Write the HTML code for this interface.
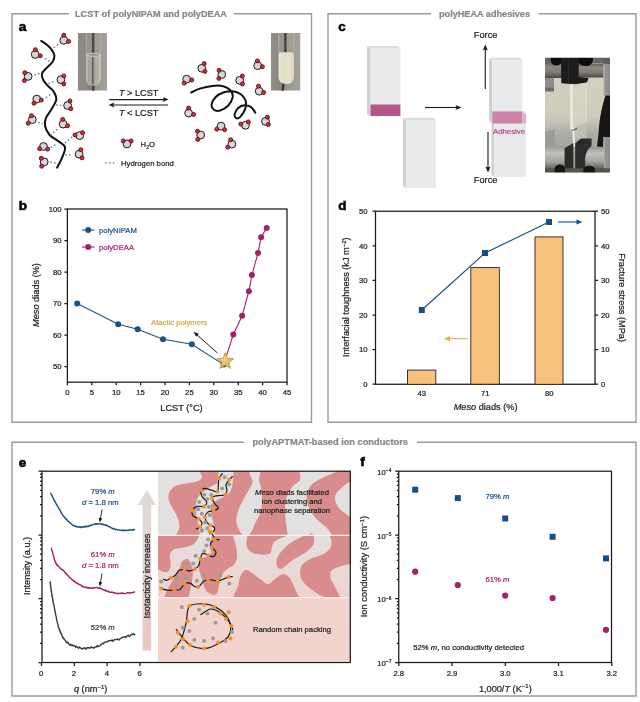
<!DOCTYPE html>
<html lang="en"><head><meta charset="utf-8"><title>Figure</title>
<style>
html,body{margin:0;padding:0;background:#fff;}
body{width:640px;height:702px;overflow:hidden;font-family:"Liberation Sans",Arial,sans-serif;}
svg{display:block;}
svg text{font-family:"Liberation Sans",Arial,sans-serif;}
</style></head><body>
<svg width="640" height="702" viewBox="0 0 640 702">
<rect width="640" height="702" fill="#fff"/>
<!-- part_frames -->
<g fill="none" stroke="#9b9b9b" stroke-width="1.4">
<path d="M69,13.7 H12 V422.2 H311.5 V13.7 H234"/>
<path d="M431,13.7 H328 V422.2 H636 V13.7 H538.5"/>
<path d="M244,442.3 H12 V696 H636 V442.3 H417"/>
</g>
<g font-family="Liberation Sans, Arial, sans-serif" font-weight="bold" font-size="9.2" fill="#85878a" text-anchor="middle" stroke="#85878a" stroke-width="0.22">
<text x="151" y="16.6" textLength="152" lengthAdjust="spacingAndGlyphs">LCST of polyNIPAM and polyDEAA</text>
<text x="484.5" y="16.6" textLength="91" lengthAdjust="spacingAndGlyphs">polyHEAA adhesives</text>
<text x="330.2" y="445.2" textLength="155.5" lengthAdjust="spacingAndGlyphs">polyAPTMAT-based ion conductors</text>
</g>
<g font-family="Liberation Sans, Arial, sans-serif" font-weight="bold" font-size="12.5" fill="#000" stroke="#000" stroke-width="0.55">
<text transform="translate(18.7,31) scale(1.08,1)">a</text>
<text transform="translate(18.7,210.3) scale(1.08,1)">b</text>
<text transform="translate(338.2,31) scale(1.08,1)">c</text>
<text transform="translate(338.2,210.3) scale(1.08,1)">d</text>
<text transform="translate(18.7,466.5) scale(1.08,1)">e</text>
<text transform="translate(360.2,465.5) scale(1.08,1)">f</text>
</g>
<!-- part_a -->
<defs><filter id="blr" x="-5%" y="-5%" width="110%" height="110%"><feGaussianBlur stdDeviation="0.45"/></filter>
<linearGradient id="t1bg" x1="0" y1="0" x2="1" y2="0"><stop offset="0" stop-color="#8f8c85"/><stop offset="0.3" stop-color="#8b8881"/><stop offset="0.5" stop-color="#807d77"/><stop offset="0.62" stop-color="#99968e"/><stop offset="1" stop-color="#a5a29a"/></linearGradient>
<linearGradient id="t1liq" x1="0" y1="0" x2="1" y2="0"><stop offset="0" stop-color="#cfcdc3"/><stop offset="0.18" stop-color="#aaa79e"/><stop offset="0.45" stop-color="#aba89f"/><stop offset="0.8" stop-color="#b8b5ac"/><stop offset="1" stop-color="#d0cec5"/></linearGradient>
<clipPath id="t1c"><rect x="77.7" y="33" width="29.3" height="57.7"/></clipPath></defs>
<g clip-path="url(#t1c)"><rect x="77.7" y="33" width="29.3" height="57.7" fill="url(#t1bg)"/><g filter="url(#blr)">
<rect x="86" y="30" width="15" height="25" fill="#a29f97" opacity="0.5"/>
<path d="M86.2,30V54M100.8,30V54" stroke="#bdbab1" stroke-width="0.8" opacity="0.8"/>
<path d="M93.2,30V95" stroke="#35342f" stroke-width="2.3" opacity="0.8"/>
<path d="M86,54 H101 V78 Q101,85 93.5,85 Q86,85 86,78Z" fill="url(#t1liq)" opacity="0.85"/>
<ellipse cx="93.5" cy="54.8" rx="7" ry="1.6" fill="#9a978f" stroke="#d6d4ca" stroke-width="0.8"/>
<path d="M92.8,57V84" stroke="#4a4945" stroke-width="1.6" opacity="0.7"/>
<path d="M87.5,83.5 Q93.5,87 99.5,83.5" stroke="#d2d0c6" stroke-width="0.8" fill="none" opacity="0.8"/>
</g></g>
<defs><linearGradient id="t2bg" x1="0" y1="0" x2="1" y2="0"><stop offset="0" stop-color="#928f88"/><stop offset="0.4" stop-color="#86837c"/><stop offset="0.55" stop-color="#9a978f"/><stop offset="1" stop-color="#a5a29a"/></linearGradient>
<linearGradient id="t2liq" x1="0" y1="0" x2="1" y2="0"><stop offset="0" stop-color="#ebe7d3"/><stop offset="0.3" stop-color="#e1ddc5"/><stop offset="0.7" stop-color="#e6e2cb"/><stop offset="1" stop-color="#d8d4bd"/></linearGradient>
<clipPath id="t2c"><rect x="271" y="33" width="29.5" height="57.7"/></clipPath></defs>
<g clip-path="url(#t2c)"><rect x="271" y="33" width="29.5" height="57.7" fill="url(#t2bg)"/><g filter="url(#blr)">
<rect x="278.5" y="33" width="15.5" height="22" fill="#a39f97" opacity="0.6"/>
<path d="M278.7,33V53M293.8,33V53" stroke="#c2bfb6" stroke-width="0.8" opacity="0.8"/>
<path d="M285.4,30V53" stroke="#34332f" stroke-width="2.2" opacity="0.9"/>
<path d="M283.6,82 L282.6,91" stroke="#2c2b28" stroke-width="2"/>
<path d="M278.5,55 Q278.5,52.3 281,52.3 H291.5 Q294,52.3 294,55 V76.5 Q294,84 286.2,84 Q278.5,84 278.5,76.5Z" fill="url(#t2liq)"/>
</g></g>
<path d="M41.2,40.8 C42.1,41.4 44.8,43.0 46.5,44.5 C48.2,46.0 50.2,47.7 51.5,49.5 C52.8,51.3 54.2,53.2 54.4,55.3 C54.6,57.4 53.9,59.8 52.5,62.0 C51.1,64.2 47.8,66.5 46.0,68.5 C44.2,70.5 42.3,72.0 41.9,74.0 C41.5,76.0 42.4,78.4 43.5,80.5 C44.6,82.6 46.8,84.7 48.5,86.5 C50.2,88.3 52.2,89.3 53.5,91.4 C54.8,93.5 56.5,96.3 56.3,99.1 C56.1,101.9 54.0,104.9 52.2,108.1 C50.5,111.3 47.0,115.3 45.8,118.3 C44.6,121.3 44.5,123.2 45.1,126.0 C45.7,128.8 47.4,132.4 49.6,135.0 C51.9,137.6 56.0,139.4 58.6,141.4 C61.2,143.4 64.4,144.6 65.0,147.2 C65.6,149.8 63.7,153.4 62.4,156.8 C61.1,160.2 58.0,165.9 57.1,167.7" fill="none" stroke="#111" stroke-width="2" stroke-linecap="round"/>
<path d="M191.3,92.5 C192.7,91.8 196.4,89.7 199.9,88.6 C203.4,87.5 208.5,86.3 212.4,85.9 C216.3,85.5 220.3,85.5 223.3,86.2 C226.3,87.0 228.7,88.4 230.3,90.2 C231.9,92.0 233.1,94.6 232.7,97.2 C232.3,99.8 230.1,103.6 228.0,105.8 C225.9,108.0 222.5,109.8 220.2,110.5 C217.8,111.2 215.3,110.8 213.9,109.7 C212.5,108.7 211.3,106.3 211.6,104.2 C211.9,102.1 213.6,99.2 215.5,97.2 C217.4,95.2 220.4,93.5 223.3,92.5 C226.2,91.5 229.8,91.0 232.7,91.2 C235.6,91.5 238.4,92.5 240.5,94.0 C242.6,95.5 244.7,97.8 245.5,100.3 C246.3,102.8 246.0,106.2 245.2,108.9 C244.4,111.6 241.9,115.1 240.5,116.7 C239.1,118.3 237.6,118.7 236.6,118.3 C235.6,117.9 234.3,116.1 234.6,114.4 C234.9,112.7 236.6,109.6 238.2,108.1 C239.8,106.6 242.2,105.4 244.4,105.3 C246.6,105.2 249.6,106.0 251.4,107.3 C253.2,108.5 254.7,111.9 255.3,112.8" fill="none" stroke="#111" stroke-width="2" stroke-linecap="round"/>
<g stroke="#4f7fb6" stroke-width="1.35" stroke-dasharray="1.6 2.3" fill="none">
<path d="M58.1,44.5L53.9,47.8"/>
<path d="M45,58.6L49.7,61.4"/>
<path d="M34.2,75L40.8,73.1"/>
<path d="M53.4,81.6L46.9,84.4"/>
<path d="M45.8,97.8L52.2,93"/>
<path d="M56,104.9L61.8,105.5"/>
<path d="M38.1,122.2L42.6,123.7"/>
<path d="M57.3,129.2L50.3,135"/>
<path d="M72.1,136.9L64.4,143.3"/>
<path d="M50.9,147.8L57.3,143.3"/>
<path d="M65,154.9L71.4,154.9"/>
<path d="M50.3,161.9L56,163.2"/>
<path d="M105,162.8L115.4,162.8"/>
</g>
<circle cx="63.8" cy="40.3" r="3.9" fill="#d6d6d6" stroke="#1a1a1a" stroke-width="1"/><circle cx="63.8" cy="35.2" r="2" fill="#d42f3a" stroke="#5a0c14" stroke-width="0.9"/><circle cx="68.6" cy="41.4" r="2" fill="#d42f3a" stroke="#5a0c14" stroke-width="0.9"/>
<circle cx="35.2" cy="54.4" r="3.9" fill="#d6d6d6" stroke="#1a1a1a" stroke-width="1"/><circle cx="35.4" cy="49.7" r="2" fill="#d42f3a" stroke="#5a0c14" stroke-width="0.9"/><circle cx="40.3" cy="55.8" r="2" fill="#d42f3a" stroke="#5a0c14" stroke-width="0.9"/>
<circle cx="28.1" cy="76.4" r="3.9" fill="#d6d6d6" stroke="#1a1a1a" stroke-width="1"/><circle cx="24.8" cy="72.7" r="2" fill="#d42f3a" stroke="#5a0c14" stroke-width="0.9"/><circle cx="24.4" cy="80.6" r="2" fill="#d42f3a" stroke="#5a0c14" stroke-width="0.9"/>
<circle cx="60.9" cy="79.7" r="3.9" fill="#d6d6d6" stroke="#1a1a1a" stroke-width="1"/><circle cx="63.8" cy="75.9" r="2" fill="#d42f3a" stroke="#5a0c14" stroke-width="0.9"/><circle cx="63.8" cy="83.9" r="2" fill="#d42f3a" stroke="#5a0c14" stroke-width="0.9"/>
<circle cx="36.8" cy="99.1" r="3.9" fill="#d6d6d6" stroke="#1a1a1a" stroke-width="1"/><circle cx="34.0" cy="103.2" r="2" fill="#d42f3a" stroke="#5a0c14" stroke-width="0.9"/><circle cx="41.3" cy="100.1" r="2" fill="#d42f3a" stroke="#5a0c14" stroke-width="0.9"/>
<circle cx="67.6" cy="105.5" r="3.9" fill="#d6d6d6" stroke="#1a1a1a" stroke-width="1"/><circle cx="69.9" cy="101.0" r="2" fill="#d42f3a" stroke="#5a0c14" stroke-width="0.9"/><circle cx="70.8" cy="108.7" r="2" fill="#d42f3a" stroke="#5a0c14" stroke-width="0.9"/>
<circle cx="32.3" cy="119.6" r="3.9" fill="#d6d6d6" stroke="#1a1a1a" stroke-width="1"/><circle cx="31.4" cy="115.8" r="2" fill="#d42f3a" stroke="#5a0c14" stroke-width="0.9"/><circle cx="28.2" cy="123.2" r="2" fill="#d42f3a" stroke="#5a0c14" stroke-width="0.9"/>
<circle cx="63.1" cy="124.1" r="3.9" fill="#d6d6d6" stroke="#1a1a1a" stroke-width="1"/><circle cx="62.7" cy="119.4" r="2" fill="#d42f3a" stroke="#5a0c14" stroke-width="0.9"/><circle cx="67.6" cy="125.8" r="2" fill="#d42f3a" stroke="#5a0c14" stroke-width="0.9"/>
<circle cx="79.7" cy="135.6" r="3.9" fill="#d6d6d6" stroke="#1a1a1a" stroke-width="1"/><circle cx="75.0" cy="135.0" r="2" fill="#d42f3a" stroke="#5a0c14" stroke-width="0.9"/><circle cx="82.6" cy="132.7" r="2" fill="#d42f3a" stroke="#5a0c14" stroke-width="0.9"/>
<circle cx="43.5" cy="146.5" r="3.9" fill="#d6d6d6" stroke="#1a1a1a" stroke-width="1"/><circle cx="39.6" cy="148.7" r="2" fill="#d42f3a" stroke="#5a0c14" stroke-width="0.9"/><circle cx="47.7" cy="149.1" r="2" fill="#d42f3a" stroke="#5a0c14" stroke-width="0.9"/>
<circle cx="79.1" cy="154.2" r="3.9" fill="#d6d6d6" stroke="#1a1a1a" stroke-width="1"/><circle cx="80.8" cy="149.7" r="2" fill="#d42f3a" stroke="#5a0c14" stroke-width="0.9"/><circle cx="82.0" cy="157.8" r="2" fill="#d42f3a" stroke="#5a0c14" stroke-width="0.9"/>
<circle cx="44.2" cy="161.9" r="3.9" fill="#d6d6d6" stroke="#1a1a1a" stroke-width="1"/><circle cx="41.3" cy="158.3" r="2" fill="#d42f3a" stroke="#5a0c14" stroke-width="0.9"/><circle cx="41.7" cy="166.2" r="2" fill="#d42f3a" stroke="#5a0c14" stroke-width="0.9"/>
<circle cx="201.8" cy="68.3" r="3.9" fill="#d6d6d6" stroke="#1a1a1a" stroke-width="1"/><circle cx="204.2" cy="63.6" r="2" fill="#d42f3a" stroke="#5a0c14" stroke-width="0.9"/><circle cx="204.9" cy="71.4" r="2" fill="#d42f3a" stroke="#5a0c14" stroke-width="0.9"/>
<circle cx="186.6" cy="79.2" r="3.9" fill="#d6d6d6" stroke="#1a1a1a" stroke-width="1"/><circle cx="184.2" cy="83.1" r="2" fill="#d42f3a" stroke="#5a0c14" stroke-width="0.9"/><circle cx="191.8" cy="80.0" r="2" fill="#d42f3a" stroke="#5a0c14" stroke-width="0.9"/>
<circle cx="221.8" cy="74.5" r="3.9" fill="#d6d6d6" stroke="#1a1a1a" stroke-width="1"/><circle cx="219.1" cy="70.3" r="2" fill="#d42f3a" stroke="#5a0c14" stroke-width="0.9"/><circle cx="218.9" cy="78.4" r="2" fill="#d42f3a" stroke="#5a0c14" stroke-width="0.9"/>
<circle cx="239.7" cy="80.3" r="3.9" fill="#d6d6d6" stroke="#1a1a1a" stroke-width="1"/><circle cx="242.4" cy="76.1" r="2" fill="#d42f3a" stroke="#5a0c14" stroke-width="0.9"/><circle cx="242.5" cy="83.9" r="2" fill="#d42f3a" stroke="#5a0c14" stroke-width="0.9"/>
<circle cx="257.7" cy="65.6" r="3.9" fill="#d6d6d6" stroke="#1a1a1a" stroke-width="1"/><circle cx="257.4" cy="60.9" r="2" fill="#d42f3a" stroke="#5a0c14" stroke-width="0.9"/><circle cx="262.4" cy="66.7" r="2" fill="#d42f3a" stroke="#5a0c14" stroke-width="0.9"/>
<circle cx="259.2" cy="91.2" r="3.9" fill="#d6d6d6" stroke="#1a1a1a" stroke-width="1"/><circle cx="258.5" cy="86.2" r="2" fill="#d42f3a" stroke="#5a0c14" stroke-width="0.9"/><circle cx="263.6" cy="92.5" r="2" fill="#d42f3a" stroke="#5a0c14" stroke-width="0.9"/>
<circle cx="188.6" cy="113.1" r="3.9" fill="#d6d6d6" stroke="#1a1a1a" stroke-width="1"/><circle cx="188.6" cy="108.1" r="2" fill="#d42f3a" stroke="#5a0c14" stroke-width="0.9"/><circle cx="193.6" cy="114.4" r="2" fill="#d42f3a" stroke="#5a0c14" stroke-width="0.9"/>
<circle cx="221.0" cy="126.1" r="3.9" fill="#d6d6d6" stroke="#1a1a1a" stroke-width="1"/><circle cx="216.8" cy="129.2" r="2" fill="#d42f3a" stroke="#5a0c14" stroke-width="0.9"/><circle cx="224.6" cy="129.7" r="2" fill="#d42f3a" stroke="#5a0c14" stroke-width="0.9"/>
<circle cx="245.5" cy="125.3" r="3.9" fill="#d6d6d6" stroke="#1a1a1a" stroke-width="1"/><circle cx="240.8" cy="124.1" r="2" fill="#d42f3a" stroke="#5a0c14" stroke-width="0.9"/><circle cx="248.3" cy="121.9" r="2" fill="#d42f3a" stroke="#5a0c14" stroke-width="0.9"/>
<circle cx="265.5" cy="121.4" r="3.9" fill="#d6d6d6" stroke="#1a1a1a" stroke-width="1"/><circle cx="267.4" cy="117.2" r="2" fill="#d42f3a" stroke="#5a0c14" stroke-width="0.9"/><circle cx="268.3" cy="124.5" r="2" fill="#d42f3a" stroke="#5a0c14" stroke-width="0.9"/>
<circle cx="200.7" cy="135.0" r="3.9" fill="#d6d6d6" stroke="#1a1a1a" stroke-width="1"/><circle cx="197.5" cy="131.2" r="2" fill="#d42f3a" stroke="#5a0c14" stroke-width="0.9"/><circle cx="197.8" cy="139.4" r="2" fill="#d42f3a" stroke="#5a0c14" stroke-width="0.9"/>
<circle cx="231.9" cy="144.1" r="3.9" fill="#d6d6d6" stroke="#1a1a1a" stroke-width="1"/><circle cx="230.7" cy="139.8" r="2" fill="#d42f3a" stroke="#5a0c14" stroke-width="0.9"/><circle cx="227.7" cy="147.2" r="2" fill="#d42f3a" stroke="#5a0c14" stroke-width="0.9"/>
<circle cx="127.0" cy="143.9" r="3.9" fill="#d6d6d6" stroke="#1a1a1a" stroke-width="1"/><circle cx="123.3" cy="140.9" r="2" fill="#d42f3a" stroke="#5a0c14" stroke-width="0.9"/><circle cx="131.1" cy="140.9" r="2" fill="#d42f3a" stroke="#5a0c14" stroke-width="0.9"/>
<g stroke="#1a1a1a" stroke-width="1.15" fill="#1a1a1a">
<path d="M109.2,99.6H165" fill="none"/><path d="M168.6,99.6 L162.8,97.1 L164,99.6 L162.8,102.1Z" stroke="none"/>
<path d="M168,105H112.4" fill="none"/><path d="M108.6,105 L114.4,102.5 L113.2,105 L114.4,107.5Z" stroke="none"/>
</g>
<g font-size="9.2" fill="#222" text-anchor="middle" stroke="#222" stroke-width="0.22">
<text x="138.7" y="96"><tspan font-style="italic">T</tspan> &gt; LCST</text>
<text x="138.7" y="116.3"><tspan font-style="italic">T</tspan> &lt; LCST</text>
</g>
<g font-size="7.7" fill="#222" stroke="#222" stroke-width="0.22">
<text x="140.6" y="147.3">H<tspan font-size="5" dy="1.8">2</tspan><tspan dy="-1.8">O</tspan></text>
<text x="121" y="165.8" textLength="52.8" lengthAdjust="spacingAndGlyphs">Hydrogen bond</text>
</g>
<!-- part_b -->
<g stroke="#1a1a1a" stroke-width="1.25" fill="none">
<rect x="67.4" y="209.0" width="219.6" height="173.2"/>
<path d="M64.4,366.5H67.4M64.4,335.0H67.4M64.4,303.5H67.4M64.4,272.0H67.4M64.4,240.5H67.4M64.4,209.0H67.4M67.4,382.2V385.2M91.8,382.2V385.2M116.2,382.2V385.2M140.6,382.2V385.2M165.0,382.2V385.2M189.4,382.2V385.2M213.8,382.2V385.2M238.2,382.2V385.2M262.6,382.2V385.2M287.0,382.2V385.2"/></g>
<g font-size="7.7" fill="#222" stroke="#222" stroke-width="0.22">
<text x="61.6" y="369.1" text-anchor="end">50</text>
<text x="61.6" y="337.6" text-anchor="end">60</text>
<text x="61.6" y="306.1" text-anchor="end">70</text>
<text x="61.6" y="274.6" text-anchor="end">80</text>
<text x="61.6" y="243.1" text-anchor="end">90</text>
<text x="61.6" y="211.6" text-anchor="end">100</text>
<text x="67.4" y="394.6" text-anchor="middle">0</text>
<text x="91.8" y="394.6" text-anchor="middle">5</text>
<text x="116.2" y="394.6" text-anchor="middle">10</text>
<text x="140.6" y="394.6" text-anchor="middle">15</text>
<text x="165.0" y="394.6" text-anchor="middle">20</text>
<text x="189.4" y="394.6" text-anchor="middle">25</text>
<text x="213.8" y="394.6" text-anchor="middle">30</text>
<text x="238.2" y="394.6" text-anchor="middle">35</text>
<text x="262.6" y="394.6" text-anchor="middle">40</text>
<text x="287.0" y="394.6" text-anchor="middle">45</text>
</g>
<g font-size="9.2" fill="#222" stroke="#222" stroke-width="0.22">
<text x="181.5" y="411" text-anchor="middle">LCST (°C)</text>
<text transform="translate(38.6,295) rotate(-90)" text-anchor="middle"><tspan font-style="italic">Meso</tspan> diads (%)</text>
</g>
<path d="M77.2,303.5 L118.2,324.3 L137.7,329.3 L163.0,339.3 L191.8,344.3 L223.6,364.6" fill="none" stroke="#1d5288" stroke-width="1.1"/>
<circle cx="77.2" cy="303.5" r="3" fill="#1d5288"/>
<circle cx="118.2" cy="324.3" r="3" fill="#1d5288"/>
<circle cx="137.7" cy="329.3" r="3" fill="#1d5288"/>
<circle cx="163.0" cy="339.3" r="3" fill="#1d5288"/>
<circle cx="191.8" cy="344.3" r="3" fill="#1d5288"/>
<circle cx="223.6" cy="364.6" r="3" fill="#1d5288"/>
<path d="M224.5,361.8 L233.3,334.4 L242.1,315.8 L248.9,291.2 L251.9,275.1 L258.0,253.1 L261.1,237.3 L266.7,227.9" fill="none" stroke="#a51f66" stroke-width="1.1"/>
<circle cx="224.5" cy="361.8" r="3" fill="#a51f66"/>
<circle cx="233.3" cy="334.4" r="3" fill="#a51f66"/>
<circle cx="242.1" cy="315.8" r="3" fill="#a51f66"/>
<circle cx="248.9" cy="291.2" r="3" fill="#a51f66"/>
<circle cx="251.9" cy="275.1" r="3" fill="#a51f66"/>
<circle cx="258.0" cy="253.1" r="3" fill="#a51f66"/>
<circle cx="261.1" cy="237.3" r="3" fill="#a51f66"/>
<circle cx="266.7" cy="227.9" r="3" fill="#a51f66"/>
<path d="M82,230H94.5" stroke="#1d5288" stroke-width="1.1"/><circle cx="88.2" cy="230" r="3" fill="#1d5288"/>
<path d="M82,247H94.5" stroke="#a51f66" stroke-width="1.1"/><circle cx="88.2" cy="247" r="3" fill="#a51f66"/>
<text x="99" y="232.6" font-size="7.7" fill="#1d5288" stroke="#1d5288" stroke-width="0.22">polyNIPAM</text>
<text x="99" y="249.6" font-size="7.7" fill="#a51f66" stroke="#a51f66" stroke-width="0.22">polyDEAA</text>
<defs><radialGradient id="starg" cx="0.45" cy="0.4" r="0.6"><stop offset="0" stop-color="#f0d49a"/><stop offset="1" stop-color="#d9a444"/></radialGradient></defs>
<path d="M225.3,352.5 L227.5,358.3 L233.7,358.6 L228.8,362.4 L230.5,368.4 L225.3,365.0 L220.1,368.4 L221.8,362.4 L216.9,358.6 L223.1,358.3Z" fill="url(#starg)" stroke="#c9973a" stroke-width="0.9" stroke-linejoin="miter"/>
<text x="151" y="324.5" font-size="7.7" fill="#d9a441" stroke="#d9a441" stroke-width="0.22">Atactic polymers</text>
<path d="M217.5,353 L196,334" stroke="#1a1a1a" stroke-width="1" fill="none"/><path d="M193.4,331.7 L198.8,333.7 L196.2,336.7Z" fill="#1a1a1a"/>
<!-- part_c -->
<path d="M367,46.9 L370.5,48.5 V116 L367,114.0Z" fill="#cfd0d2"/><path d="M367,46.9 L368,45.9 H397.79999999999995 L400.4,48.5 H370.5Z" fill="#dcdddf"/><rect x="370.5" y="48.5" width="29.899999999999977" height="67.5" fill="#e9eaeb"/>
<rect x="370.5" y="104.5" width="29.9" height="11.5" fill="#b3568a"/>
<path d="M403,118.7 L406,120.3 V188 L403,186.0Z" fill="#cfd0d2"/><path d="M403,118.7 L404,117.7 H433.4 L436,120.3 H406Z" fill="#dcdddf"/><rect x="406" y="120.3" width="30" height="67.7" fill="#e9eaeb"/>
<path d="M425,107.5H457" stroke="#1a1a1a" stroke-width="1.1"/><path d="M461.5,107.5 L455.5,104.9 L456.7,107.5 L455.5,110.1Z" fill="#1a1a1a"/>
<path d="M491.5,111.80000000000001 L494.3,113.4 V177 L491.5,175.0Z" fill="#cfd0d2"/><path d="M491.5,111.80000000000001 L492.5,110.80000000000001 H523.4 L526,113.4 H494.3Z" fill="#dcdddf"/><rect x="494.3" y="113.4" width="31.69999999999999" height="63.599999999999994" fill="#e9eaeb"/>
<path d="M489,58.699999999999996 L492.3,60.3 V123 L489,121.0Z" fill="#cfd0d2"/><path d="M489,58.699999999999996 L490,57.699999999999996 H519.8 L522.4,60.3 H492.3Z" fill="#dcdddf"/><rect x="492.3" y="60.3" width="30.099999999999966" height="62.7" fill="#e9eaeb"/>
<rect x="492.3" y="111.4" width="30.1" height="12.1" fill="#c9729f" opacity="0.85"/>
<rect x="522.4" y="113.4" width="3.6" height="10.1" fill="#dcaecb"/>
<path d="M485.3,89V49" stroke="#1a1a1a" stroke-width="1.1"/><path d="M485.3,44.5 L482.7,50.5 L485.3,49.3 L487.9,50.5Z" fill="#1a1a1a"/>
<path d="M488,132V168" stroke="#1a1a1a" stroke-width="1.1"/><path d="M488,172.4 L485.4,166.4 L488,167.6 L490.6,166.4Z" fill="#1a1a1a"/>
<g font-size="9.2" fill="#222" text-anchor="middle" stroke="#222" stroke-width="0.22"><text x="485.6" y="37.9">Force</text><text x="485.6" y="182.8">Force</text></g>
<text x="493" y="133.8" font-size="7.7" fill="#b3457f" textLength="32" lengthAdjust="spacingAndGlyphs" stroke="#b3457f" stroke-width="0.22">Adhesive</text>
<defs>
<linearGradient id="pbg" x1="0" y1="0" x2="0" y2="1"><stop offset="0" stop-color="#c9c5b4"/><stop offset="0.2" stop-color="#d3cfbf"/><stop offset="0.5" stop-color="#cfccbc"/><stop offset="0.58" stop-color="#c0beb2"/><stop offset="0.66" stop-color="#aeada6"/><stop offset="0.8" stop-color="#a3a29c"/><stop offset="1" stop-color="#8c8b86"/></linearGradient>
<linearGradient id="cyl" x1="0" y1="0" x2="0" y2="1"><stop offset="0" stop-color="#5e5c57"/><stop offset="0.3" stop-color="#8d8a82"/><stop offset="0.65" stop-color="#7d7a73"/><stop offset="1" stop-color="#4a4845"/></linearGradient>
<linearGradient id="cyl2" x1="0" y1="0" x2="0" y2="1"><stop offset="0" stop-color="#9a9893"/><stop offset="0.3" stop-color="#c2c0ba"/><stop offset="0.65" stop-color="#a5a39d"/><stop offset="1" stop-color="#5d5b57"/></linearGradient>
<linearGradient id="blk" x1="0" y1="0" x2="1" y2="0"><stop offset="0" stop-color="#bdbdbc"/><stop offset="0.25" stop-color="#949494"/><stop offset="1" stop-color="#8a8a8a"/></linearGradient>
<clipPath id="pc"><rect x="545.0" y="57.8" width="65.0" height="114.6"/></clipPath>
</defs>
<g clip-path="url(#pc)">
<rect x="545.0" y="57.8" width="65.0" height="114.6" fill="url(#pbg)"/><g filter="url(#blr)">
<rect x="544" y="77" width="10" height="11" fill="#8c8c8a"/><rect x="544" y="87.5" width="10" height="4" fill="#6e6e6c"/>
<path d="M544,129 L554.6,127 V147 H544Z" fill="#9a9a98"/><path d="M544,129 L554.6,127 V129.5 L544,131.5Z" fill="#b4b4b2"/>
<rect x="544" y="62" width="19" height="16" fill="url(#cyl)"/>
<rect x="578" y="63.5" width="26" height="14" fill="url(#cyl)"/>
<rect x="544" y="56" width="67" height="7" fill="#676560"/>
<path d="M550.5,56 H562 V62 Q560,65.5 556,65.5 Q551.5,65.5 550.5,60Z" fill="#111"/>
<path d="M578,56 H593 V60 Q592,66 586,66 Q580,66 578,62Z" fill="#111"/>
<rect x="603.3" y="63.5" width="8" height="32" fill="url(#blk)"/>
<rect x="603.3" y="56" width="8" height="8" fill="#5f5f5d"/>
<path d="M605.5,95.5 C602.5,104 599.5,118 598.8,130 C598.3,138 597.5,143 597,146.5 L603,147 L604,139 L611,137 V95.5Z" fill="#141413"/>
<rect x="603.3" y="137" width="8" height="36" fill="url(#blk)"/>
<path d="M561,56 H578.7 V77 L588.6,78 L587,82.2 L576,84.6 L561.3,83.2Z" fill="#1b1b1a"/>
<path d="M568.5,58V83" stroke="#3d3d3b" stroke-width="1" stroke-dasharray="0.7 0.9"/>
<path d="M570.2,84.3 L586.3,83 L586.3,122.5 L570.2,129.6Z" fill="#d9d6ca" opacity="0.65"/>
<path d="M570.2,84.3 L573,84.1 L573.2,128.3 L570.2,129.6Z" fill="#ecebe4" opacity="0.85"/>
<path d="M586.1,83V122.5" stroke="#e8e6dc" stroke-width="0.7"/>
<path d="M575,130 L586.3,123.5 V139 H575Z" fill="#c2c1ba" opacity="0.85"/>
<path d="M573.2,127 L574.2,147" stroke="#f0efe9" stroke-width="2"/>
<path d="M572.5,130.5 L577,128.5" stroke="#55534e" stroke-width="1.2"/>
<rect x="544" y="146" width="21" height="24" fill="url(#cyl2)"/>
<rect x="585" y="147" width="19" height="22" fill="url(#cyl2)"/>
<path d="M564.6,148.3 L573.3,143 V173 H564.6Z" fill="#2c2c2b"/>
<path d="M575.2,143.5 L581,138.4 H591.6 V146 Q586,150 585.2,158 V173 H575.2Z" fill="#2f2f2e"/>
<path d="M576.5,145 L583,139.5 M579.5,146 L586.5,140" stroke="#1b1b1a" stroke-width="0.9"/>
<rect x="544" y="168.3" width="67" height="5" fill="#55544f"/>
<path d="M554.6,173 V168 Q556,164.5 560,164.5 Q564,164.5 565,168 V173Z" fill="#121211"/>
<path d="M583.4,173 V169 Q585,165.8 589,165.8 Q593.5,165.8 595,169 V173Z" fill="#121211"/>
</g></g>
<!-- part_d -->
<g stroke="#1a1a1a" stroke-width="1.25" fill="none">
<rect x="375.5" y="211.25" width="219.5" height="173.00"/>
<path d="M372.5,384.2H375.5M595.0,384.2H598.0M372.5,349.6H375.5M595.0,349.6H598.0M372.5,315.1H375.5M595.0,315.1H598.0M372.5,280.4H375.5M595.0,280.4H598.0M372.5,245.8H375.5M595.0,245.8H598.0M372.5,211.2H375.5M595.0,211.2H598.0"/></g>
<g font-size="7.7" fill="#222" stroke="#222" stroke-width="0.22">
<text x="367.6" y="386.9" text-anchor="end">0</text>
<text x="601.0" y="386.9">0</text>
<text x="367.6" y="352.3" text-anchor="end">10</text>
<text x="601.0" y="352.3">10</text>
<text x="367.6" y="317.8" text-anchor="end">20</text>
<text x="601.0" y="317.8">20</text>
<text x="367.6" y="283.1" text-anchor="end">30</text>
<text x="601.0" y="283.1">30</text>
<text x="367.6" y="248.5" text-anchor="end">40</text>
<text x="601.0" y="248.5">40</text>
<text x="367.6" y="213.9" text-anchor="end">50</text>
<text x="601.0" y="213.9">50</text>
<text x="421.7" y="395.8" text-anchor="middle">43</text>
<text x="485.3" y="395.8" text-anchor="middle">71</text>
<text x="549.2" y="395.8" text-anchor="middle">80</text>
</g>
<rect x="407.5" y="370.1" width="28.3" height="14.2" fill="#f7c27d" stroke="#2a2017" stroke-width="0.9"/>
<rect x="470.8" y="267.6" width="28.5" height="116.6" fill="#f7c27d" stroke="#2a2017" stroke-width="0.9"/>
<rect x="535" y="236.9" width="28.0" height="147.4" fill="#f7c27d" stroke="#2a2017" stroke-width="0.9"/>
<path d="M421.8,310.0 L485.0,253.0 L549.0,222.0" fill="none" stroke="#154e88" stroke-width="1.1"/>
<rect x="418.8" y="307.0" width="6" height="6" fill="#154e88"/>
<rect x="482.0" y="250.0" width="6" height="6" fill="#154e88"/>
<rect x="546.0" y="219.0" width="6" height="6" fill="#154e88"/>
<path d="M558,222H578" stroke="#154e88" stroke-width="1.1"/><path d="M582.5,222 L576.5,219.4 L576.5,224.6Z" fill="#154e88"/>
<path d="M467.5,338.7H448" stroke="#f0a64b" stroke-width="1.1"/><path d="M444,338.7 L450,336.1 L450,341.3Z" fill="#f0a64b"/>
<g font-size="9.2" fill="#222" stroke="#222" stroke-width="0.22">
<text x="485.6" y="410.2" text-anchor="middle"><tspan font-style="italic">Meso</tspan> diads (%)</text>
<text transform="translate(348.8,297.2) rotate(-90)" text-anchor="middle">Interfacial toughness (kJ m<tspan font-size="6" dy="-3.2">−2</tspan><tspan dy="3.2">)</tspan></text>
<text transform="translate(619.4,297.6) rotate(90)" text-anchor="middle">Fracture stress (MPa)</text>
</g>
<!-- part_e -->
<defs>
<linearGradient id="bgm" x1="0" y1="0" x2="0" y2="1"><stop offset="0" stop-color="#e3e0de"/><stop offset="1" stop-color="#efd3ce"/></linearGradient>
<linearGradient id="arr" x1="0" y1="0" x2="0" y2="1"><stop offset="0" stop-color="#dcdad8"/><stop offset="0.35" stop-color="#e3d6d3"/><stop offset="1" stop-color="#ecc6c2"/></linearGradient>
<clipPath id="ctop"><rect x="158.0" y="471.2" width="192.3" height="64.09999999999997"/></clipPath>
<clipPath id="cmid"><rect x="158.0" y="535.3" width="192.3" height="62.30000000000007"/></clipPath>
</defs>
<rect x="158.0" y="471.2" width="192.3" height="64.09999999999997" fill="#e2e1df"/>
<rect x="158.0" y="535.3" width="192.3" height="62.30000000000007" fill="url(#bgm)"/>
<rect x="158.0" y="597.6" width="192.3" height="63.89999999999998" fill="#f2d3ce"/>
<g clip-path="url(#ctop)" fill="#d88d8c">
<path d="M203.4,468.0 C195.7,469.6 202.9,475.3 201.9,477.5 C200.9,479.7 199.8,480.4 197.2,481.4 C194.6,482.4 189.9,482.6 186.2,483.4 C182.6,484.2 178.2,484.5 175.3,486.1 C172.4,487.7 170.1,490.6 169.1,493.1 C168.1,495.6 168.3,498.0 169.1,500.9 C169.9,503.8 172.2,507.2 173.8,510.3 C175.3,513.4 177.5,516.8 178.4,519.7 C179.3,522.6 179.4,525.2 179.2,527.5 C178.9,529.8 177.6,531.7 176.9,533.8 C176.2,535.8 163.8,539.0 175.0,540.0 C186.2,541.0 232.8,540.8 244.0,540.0 C255.2,539.2 243.3,536.6 242.5,535.0 C241.7,533.4 240.4,532.9 239.4,530.6 C238.4,528.3 236.5,524.4 236.2,521.2 C236.0,518.1 236.8,515.3 237.8,511.9 C238.8,508.5 240.7,504.6 242.5,501.0 C244.3,497.4 247.1,493.2 248.8,490.0 C250.4,486.8 252.4,484.7 252.5,482.0 C252.6,479.3 250.2,476.3 249.5,474.0 C248.8,471.7 255.7,469.0 248.0,468.0 C240.3,467.0 211.1,466.4 203.4,468.0Z"/>
<path d="M262.0,468.0 C255.6,468.6 261.2,469.5 260.7,471.5 C260.2,473.5 259.0,477.3 259.0,479.8 C259.0,482.3 260.1,483.3 260.7,486.3 C261.2,489.3 262.2,494.2 262.3,497.8 C262.4,501.4 262.1,504.7 261.5,507.7 C260.9,510.7 260.0,513.4 259.0,515.9 C258.0,518.4 256.7,519.9 255.5,522.4 C254.3,524.9 253.0,528.1 252.0,531.0 C251.0,533.9 243.4,538.5 249.5,540.0 C255.6,541.5 282.1,540.8 288.5,540.0 C294.9,539.2 288.1,538.2 287.7,535.0 C287.2,531.8 286.2,524.5 285.8,521.0 C285.4,517.5 285.4,517.0 285.3,514.2 C285.2,511.4 284.9,507.7 285.3,504.4 C285.7,501.1 286.5,497.5 287.7,494.5 C288.9,491.5 290.6,488.8 292.7,486.3 C294.8,483.9 298.9,482.3 300.0,479.8 C301.1,477.3 299.8,473.5 299.6,471.5 C299.4,469.5 305.3,468.6 299.0,468.0 C292.7,467.4 268.4,467.4 262.0,468.0Z"/>
<path d="M345.0,468.0 C341.8,468.6 340.0,470.2 337.0,471.5 C334.0,472.8 330.7,474.1 327.1,475.7 C323.5,477.3 318.6,479.3 315.6,481.4 C312.6,483.4 310.6,485.5 309.1,488.0 C307.6,490.5 306.8,493.2 306.6,496.2 C306.5,499.2 307.0,502.7 308.2,506.0 C309.4,509.3 311.9,513.2 314.0,515.9 C316.1,518.6 318.3,520.3 320.5,522.4 C322.7,524.5 325.2,526.1 327.1,528.2 C329.0,530.3 330.9,533.2 332.0,535.2 C333.1,537.2 330.0,539.2 334.0,540.0 C338.0,540.8 352.3,543.9 356.0,540.0 C359.7,536.1 357.0,520.6 356.0,516.7 C355.0,512.8 351.8,517.2 350.0,516.7 C348.2,516.2 347.0,514.8 345.2,513.4 C343.4,512.0 341.0,510.6 339.4,508.5 C337.8,506.4 335.9,503.6 335.3,501.1 C334.8,498.6 334.7,496.2 336.1,493.7 C337.5,491.2 341.2,488.4 343.5,486.3 C345.8,484.2 347.9,482.6 350.0,481.4 C352.1,480.2 355.0,481.2 356.0,479.0 C357.0,476.8 357.8,469.8 356.0,468.0 C354.2,466.2 348.2,467.4 345.0,468.0Z"/>
<path d="M305.5,537 Q310,534 311.5,533 Q313.5,534 314.2,537Z"/>
<path d="M226.1,470.0 C226.0,471.8 225.8,477.5 225.3,480.6 C224.8,483.7 225.1,486.2 223.0,488.4 C220.9,490.6 215.9,491.8 212.8,493.9 C209.7,496.0 206.1,498.3 204.5,501.0 C202.9,503.7 203.2,507.4 203.2,510.3 C203.2,513.1 203.8,515.2 204.4,518.1 C205.0,521.0 206.1,524.2 206.6,527.5 C207.1,530.8 207.2,536.2 207.3,538.0" fill="none" stroke="#e2e1df" stroke-width="15" stroke-linecap="round" stroke-linejoin="round"/>
</g>
<g clip-path="url(#cmid)" fill="#d88d8c">
<path d="M154.0,532.0 C161.5,526.2 191.3,531.3 198.8,532.0 C206.2,532.7 199.1,534.8 198.8,536.2 C198.4,537.7 197.7,539.3 196.4,540.9 C195.1,542.5 193.4,544.4 190.9,545.6 C188.4,546.8 184.5,547.4 181.6,548.0 C178.7,548.6 175.7,548.3 173.8,549.5 C171.8,550.7 170.3,552.8 169.8,555.0 C169.3,557.2 170.6,560.5 170.6,562.8 C170.6,565.1 170.5,567.4 169.8,569.0 C169.2,570.6 168.0,571.8 166.7,572.2 C165.4,572.6 163.4,571.9 162.0,571.4 C160.6,570.9 159.3,569.7 158.0,569.0 C156.7,568.3 154.7,573.2 154.0,567.0 C153.3,560.8 146.5,537.8 154.0,532.0Z"/>
<path d="M186.2,558.9 C185.2,559.2 183.5,559.6 182.3,561.2 C181.1,562.9 180.6,566.1 179.2,569.0 C177.8,571.9 175.6,575.3 173.8,578.4 C171.9,581.5 169.9,584.7 168.3,587.8 C166.7,590.9 165.3,594.8 164.4,597.2 C163.5,599.6 159.1,601.2 163.0,602.0 C166.9,602.8 183.7,602.8 188.0,602.0 C192.3,601.2 188.0,600.4 188.6,597.2 C189.2,594.1 191.0,587.3 191.7,583.1 C192.4,578.9 192.9,575.5 192.8,572.2 C192.7,569.0 191.6,565.7 190.9,563.6 C190.2,561.5 189.4,560.5 188.6,559.7 C187.8,558.9 187.3,558.6 186.2,558.9Z"/>
<path d="M212.5,532.0 C209.1,532.7 212.5,534.0 212.0,536.2 C211.5,538.5 209.8,542.7 209.7,545.6 C209.6,548.5 212.0,551.5 211.2,553.4 C210.5,555.3 206.9,556.4 205.0,557.3 C203.1,558.2 201.0,557.0 200.0,558.8 C199.0,560.5 198.4,564.2 198.8,567.5 C199.1,570.8 200.8,575.0 201.9,578.8 C203.0,582.5 204.2,587.6 205.6,590.0 C206.9,592.4 208.6,592.6 210.0,593.4 C211.4,594.2 212.8,595.0 214.0,594.9 C215.2,594.8 216.3,594.9 217.2,593.0 C218.1,591.1 218.6,586.8 219.4,583.8 C220.2,580.8 220.6,577.5 221.9,575.0 C223.2,572.5 225.5,570.4 227.5,568.8 C229.5,567.1 232.2,566.7 233.8,565.0 C235.3,563.3 236.4,560.9 236.9,558.8 C237.4,556.6 237.0,554.5 236.8,552.0 C236.6,549.5 236.1,546.6 235.5,544.0 C234.9,541.4 233.5,538.2 233.0,536.2 C232.5,534.2 235.9,532.7 232.5,532.0 C229.1,531.3 215.9,531.3 212.5,532.0Z"/>
<path d="M247.0,532.0 C240.4,532.7 247.3,534.2 247.2,536.2 C247.1,538.2 246.1,541.7 246.4,544.0 C246.7,546.3 247.5,548.7 248.8,550.3 C250.0,551.9 252.4,552.8 254.0,553.4 C255.6,554.0 256.4,553.7 258.2,553.9 C260.0,554.1 262.8,554.8 264.8,554.6 C266.9,554.5 269.3,554.4 270.5,553.0 C271.7,551.6 271.4,548.3 272.1,546.4 C272.8,544.5 273.1,542.9 274.6,541.5 C276.1,540.1 279.4,538.7 281.2,537.9 C283.0,537.1 284.3,537.5 285.3,536.5 C286.3,535.5 293.4,532.8 287.0,532.0 C280.6,531.2 253.6,531.3 247.0,532.0Z"/>
<path d="M311.5,533.3 C312.5,534.1 313.7,536.3 314.0,538.2 C314.3,540.1 314.2,542.8 313.2,544.8 C312.2,546.8 310.5,548.6 308.2,550.5 C305.9,552.4 302.1,554.5 299.2,556.2 C296.3,558.0 293.3,559.6 291.0,561.2 C288.7,562.8 287.1,564.8 285.3,566.1 C283.5,567.4 281.8,569.0 280.4,569.0 C279.0,569.0 277.7,567.5 277.1,566.1 C276.5,564.7 276.2,562.5 276.6,560.4 C277.0,558.3 278.1,556.0 279.5,553.8 C280.9,551.6 283.1,549.2 285.3,547.2 C287.5,545.2 289.8,543.3 292.7,541.5 C295.6,539.7 299.9,537.9 302.5,536.6 C305.1,535.3 306.7,534.2 308.2,533.6 C309.7,533.0 310.5,532.5 311.5,533.3Z"/>
<path d="M326.0,528.0 C320.9,528.3 326.2,528.0 327.1,530.0 C328.0,532.0 330.6,536.8 331.2,539.8 C331.8,542.8 331.9,545.5 330.4,548.0 C328.9,550.5 325.5,552.8 322.2,554.6 C318.9,556.4 314.0,557.1 310.7,558.7 C307.4,560.4 304.3,562.2 302.5,564.5 C300.7,566.8 300.0,570.0 300.0,572.7 C300.0,575.4 300.7,578.2 302.5,580.9 C304.3,583.6 307.7,586.6 310.7,589.1 C313.7,591.6 318.0,594.2 320.5,595.6 C323.0,597.0 324.2,596.5 325.5,597.6 C326.8,598.7 325.3,601.3 328.0,602.0 C330.7,602.7 339.5,602.7 341.5,602.0 C343.5,601.3 341.2,600.0 340.2,597.6 C339.2,595.2 336.9,590.6 335.3,587.4 C333.7,584.2 331.4,581.1 330.7,578.4 C330.0,575.7 329.9,572.9 331.2,571.0 C332.5,569.1 335.4,568.0 338.6,566.9 C341.8,565.8 347.2,564.8 350.4,564.1 C353.6,563.5 356.7,569.0 358.0,563.0 C359.3,557.0 363.3,533.8 358.0,528.0 C352.7,522.2 331.1,527.7 326.0,528.0Z"/>
<path d="M238.6,602.0 C228.3,599.2 238.1,589.5 238.5,585.0 C238.9,580.5 239.8,577.5 241.0,575.0 C242.2,572.5 244.2,570.3 246.0,570.0 C247.8,569.7 249.7,571.5 252.0,573.0 C254.3,574.5 257.3,577.2 260.0,579.0 C262.7,580.8 265.5,584.0 268.0,584.0 C270.5,584.0 272.5,580.7 275.0,579.0 C277.5,577.3 280.6,574.2 283.0,574.0 C285.4,573.8 287.5,575.4 289.4,577.6 C291.3,579.8 292.7,584.1 294.3,587.4 C295.9,590.7 298.2,595.1 299.2,597.5 C300.2,599.9 310.6,601.2 300.5,602.0 C290.4,602.8 248.9,604.8 238.6,602.0Z"/>
</g>
<path d="M158.0,535.3H350.3M158.0,597.6H350.3" stroke="#fbf3f1" stroke-width="1.2"/>
<path d="M146.8,490.3 L156,505 L151.2,505 L151.2,650.5 L142.6,650.5 L142.6,505 L137.6,505Z" fill="url(#arr)"/>
<text transform="translate(150.2,576) rotate(-90)" text-anchor="middle" font-size="9.2" fill="#222" stroke="#222" stroke-width="0.22">Isotacticity increases</text>
<g font-size="7.7" fill="#222" text-anchor="middle" stroke="#222" stroke-width="0.22">
<text x="292" y="494.9"><tspan font-style="italic">Meso</tspan> diads facilitated</text>
<text x="292" y="503.9">ion clustering and</text>
<text x="292" y="512.9">nanophase separation</text>
<text x="292" y="632.3">Random chain packing</text>
</g>
<g fill="none" stroke="#1a1a1a" stroke-width="1.2" stroke-linecap="round">
<path d="M232.3,476.7 C231.8,477.2 230.3,478.5 229.2,479.8 C228.2,481.1 226.5,482.7 226.1,484.5 C225.7,486.4 227.0,489.1 226.9,490.8 C226.7,492.5 226.4,493.9 225.3,494.7 C224.3,495.5 222.4,495.2 220.6,495.5 C218.8,495.7 215.8,495.7 214.4,496.2 C212.9,496.8 211.9,497.3 212.0,498.6 C212.2,499.9 214.1,502.5 215.2,504.1 C216.2,505.6 218.5,506.8 218.3,508.0 C218.0,509.1 215.3,510.1 213.6,510.8 C211.9,511.4 209.6,510.8 208.1,511.9 C206.7,513.0 205.1,515.5 205.0,517.3 C204.9,519.2 206.4,521.5 207.3,522.8 C208.3,524.1 209.3,524.4 210.5,525.2 C211.6,525.9 213.9,526.5 214.4,527.5 C214.9,528.5 214.4,530.4 213.6,531.4 C212.8,532.4 210.3,533.4 209.7,533.8"/>
<path d="M222.2,473.6 C221.7,474.4 219.7,476.3 219.1,478.3 C218.4,480.2 218.5,483.1 218.3,485.3 C218.0,487.5 218.7,490.8 217.5,491.6 C216.3,492.3 213.3,490.5 211.2,490.0 C209.2,489.5 206.7,488.4 205.0,488.4 C203.3,488.5 201.6,489.0 201.1,490.3 C200.6,491.6 201.0,494.3 201.9,496.2 C202.8,498.2 206.2,500.0 206.6,501.7 C207.0,503.4 205.8,505.6 204.2,506.4 C202.7,507.2 199.2,505.7 197.2,506.4 C195.2,507.1 192.8,509.1 192.2,510.6 C191.5,512.2 192.2,514.4 193.3,515.8 C194.4,517.2 197.3,517.7 198.8,518.9 C200.2,520.1 201.6,521.5 201.9,522.8 C202.1,524.1 201.2,525.7 200.3,526.7 C199.4,527.8 197.1,528.7 196.4,529.1"/>
<path d="M209.7,531.6 C210.3,532.2 212.3,534.2 213.1,535.5 C213.9,536.8 214.8,538.1 214.4,539.4 C213.9,540.7 210.9,542.0 210.5,543.3 C210.1,544.6 211.1,545.8 212.0,547.2 C212.9,548.6 215.7,550.3 215.9,551.9 C216.2,553.4 214.9,556.0 213.6,556.6 C212.3,557.1 209.9,555.8 208.1,555.3 C206.3,554.8 204.0,552.8 202.7,553.4 C201.4,554.0 201.0,557.0 200.3,558.9 C199.7,560.9 199.7,563.5 198.8,565.2 C197.8,566.8 196.3,568.1 194.8,569.1 C193.4,570.0 191.8,570.8 190.2,570.9 C188.5,571.1 186.5,569.9 184.7,569.8 C182.9,569.7 180.8,569.4 179.2,570.3 C177.7,571.2 176.6,574.1 175.3,575.3 C174.0,576.5 172.8,576.8 171.4,577.7 C170.0,578.5 168.0,580.1 166.7,580.3 C165.4,580.6 164.1,579.4 163.6,579.2"/>
<path d="M215.2,539.4 C215.8,539.4 218.4,539.6 219.1,539.7"/>
<path d="M161.2,588.6 C162.3,588.9 165.3,589.9 167.5,590.2 C169.7,590.4 172.4,590.3 174.5,590.2 C176.6,590.0 178.3,590.4 180.0,589.4 C181.7,588.3 183.0,584.9 184.7,583.9 C186.4,582.9 188.6,582.7 190.2,583.1 C191.7,583.5 192.7,585.6 194.1,586.2 C195.4,586.9 196.9,587.8 198.4,587.0 C200.0,586.2 201.8,582.8 203.4,581.6 C205.1,580.3 206.6,579.9 208.1,579.7 C209.7,579.4 211.2,579.7 212.8,580.0 C214.4,580.3 215.8,581.4 217.5,581.2 C219.2,581.1 221.1,579.9 223.0,579.2 C224.8,578.5 226.9,577.3 228.4,576.9 C230.0,576.4 231.7,576.6 232.3,576.6"/>
<path d="M171.3,651.7 C173.0,649.6 178.7,644.0 181.2,639.2 C183.6,634.4 184.7,628.3 186.1,622.8 C187.5,617.3 186.4,609.6 189.4,606.4 C192.4,603.2 199.8,603.7 204.1,603.8 C208.5,603.9 212.1,605.3 215.6,607.1 C219.2,608.9 223.0,611.7 225.5,614.6 C227.9,617.5 229.8,620.9 230.4,624.4 C230.9,628.0 230.4,632.9 228.7,635.9 C227.1,638.9 224.4,640.4 220.5,642.5 C216.7,644.6 210.7,647.9 205.8,648.4 C200.9,648.9 195.1,647.9 191.0,645.8 C186.9,643.7 183.6,638.7 181.2,635.9 C178.7,633.2 177.1,630.5 176.2,629.4"/>
<path d="M200.9,614.6 C202.5,613.7 207.4,609.3 210.7,609.0 C214.0,608.8 217.5,610.9 220.5,613.0 C223.5,615.0 226.7,618.4 228.7,621.2 C230.8,623.9 232.0,628.0 232.7,629.4"/>
</g>
<g fill="#9b9b9b">
<circle cx="224.5" cy="477.2" r="2"/>
<circle cx="229.2" cy="484.5" r="2"/>
<circle cx="222.2" cy="488.4" r="2"/>
<circle cx="204.2" cy="494.7" r="2"/>
<circle cx="211.2" cy="494.7" r="2"/>
<circle cx="207.3" cy="499.1" r="2"/>
<circle cx="199.2" cy="502.0" r="2"/>
<circle cx="208.9" cy="506.9" r="2"/>
<circle cx="198.0" cy="509.2" r="2"/>
<circle cx="201.9" cy="513.8" r="2"/>
<circle cx="209.7" cy="515.0" r="2"/>
<circle cx="205.0" cy="522.5" r="2"/>
<circle cx="201.9" cy="530.3" r="2"/>
<circle cx="207.3" cy="528.3" r="2"/>
<circle cx="201.9" cy="530.8" r="2"/>
<circle cx="208.1" cy="539.4" r="2"/>
<circle cx="206.6" cy="545.6" r="2"/>
<circle cx="204.2" cy="551.1" r="2"/>
<circle cx="195.6" cy="555.8" r="2"/>
<circle cx="193.3" cy="563.6" r="2"/>
<circle cx="186.2" cy="564.4" r="2"/>
<circle cx="176.9" cy="577.7" r="2"/>
<circle cx="186.2" cy="577.7" r="2"/>
<circle cx="161.2" cy="581.6" r="2"/>
<circle cx="176.1" cy="585.9" r="2"/>
<circle cx="196.9" cy="580.8" r="2"/>
<circle cx="204.2" cy="575.0" r="2"/>
<circle cx="220.3" cy="575.6" r="2"/>
<circle cx="229.2" cy="583.4" r="2"/>
<circle cx="181.8" cy="607.1" r="2"/>
<circle cx="199.2" cy="609.7" r="2"/>
<circle cx="207.4" cy="613.6" r="2"/>
<circle cx="194.3" cy="618.9" r="2"/>
<circle cx="215.6" cy="622.8" r="2"/>
<circle cx="182.8" cy="627.7" r="2"/>
<circle cx="189.4" cy="631.0" r="2"/>
<circle cx="232.0" cy="632.0" r="2"/>
<circle cx="194.3" cy="639.9" r="2"/>
<circle cx="204.1" cy="640.9" r="2"/>
<circle cx="213.0" cy="638.6" r="2"/>
<circle cx="225.5" cy="640.9" r="2"/>
<circle cx="182.8" cy="647.4" r="2"/>
</g><g fill="#f59120">
<circle cx="219.1" cy="478.3" r="2"/>
<circle cx="229.2" cy="479.8" r="2"/>
<circle cx="217.5" cy="491.6" r="2"/>
<circle cx="225.3" cy="494.7" r="2"/>
<circle cx="201.1" cy="490.3" r="2"/>
<circle cx="212.0" cy="498.6" r="2"/>
<circle cx="204.2" cy="506.4" r="2"/>
<circle cx="192.2" cy="510.6" r="2"/>
<circle cx="213.6" cy="510.8" r="2"/>
<circle cx="205.0" cy="517.3" r="2"/>
<circle cx="198.8" cy="518.9" r="2"/>
<circle cx="210.5" cy="525.2" r="2"/>
<circle cx="200.3" cy="526.7" r="2"/>
<circle cx="211.2" cy="532.2" r="2"/>
<circle cx="209.7" cy="531.6" r="2"/>
<circle cx="214.4" cy="539.4" r="2"/>
<circle cx="212.0" cy="547.2" r="2"/>
<circle cx="208.1" cy="555.3" r="2"/>
<circle cx="200.3" cy="558.9" r="2"/>
<circle cx="194.8" cy="569.1" r="2"/>
<circle cx="184.7" cy="569.8" r="2"/>
<circle cx="171.4" cy="577.7" r="2"/>
<circle cx="161.2" cy="588.6" r="2"/>
<circle cx="174.5" cy="590.2" r="2"/>
<circle cx="184.7" cy="583.9" r="2"/>
<circle cx="198.4" cy="587.0" r="2"/>
<circle cx="208.1" cy="579.7" r="2"/>
<circle cx="217.5" cy="581.2" r="2"/>
<circle cx="228.4" cy="576.9" r="2"/>
<circle cx="189.4" cy="605.7" r="2"/>
<circle cx="204.1" cy="604.8" r="2"/>
<circle cx="214.0" cy="607.1" r="2"/>
<circle cx="220.5" cy="613.6" r="2"/>
<circle cx="228.7" cy="612.3" r="2"/>
<circle cx="226.1" cy="618.9" r="2"/>
<circle cx="231.4" cy="626.1" r="2"/>
<circle cx="187.7" cy="621.2" r="2"/>
<circle cx="177.9" cy="632.7" r="2"/>
<circle cx="182.8" cy="639.2" r="2"/>
<circle cx="190.0" cy="645.1" r="2"/>
<circle cx="204.1" cy="648.4" r="2"/>
<circle cx="218.2" cy="642.5" r="2"/>
<circle cx="230.4" cy="638.6" r="2"/>
<circle cx="176.2" cy="646.4" r="2"/>
</g>
<g stroke="#1a1a1a" stroke-width="1.25" fill="none">
<rect x="42.0" y="471.2" width="308.3" height="191.3"/>
<path d="M38.5,471.2H42.0M40.0,515.8H42.0M40.0,504.5H42.0M40.0,496.6H42.0M40.0,490.4H42.0M40.0,485.3H42.0M40.0,481.1H42.0M40.0,477.4H42.0M40.0,474.1H42.0M38.5,535.0H42.0M40.0,579.5H42.0M40.0,568.3H42.0M40.0,560.3H42.0M40.0,554.2H42.0M40.0,549.1H42.0M40.0,544.8H42.0M40.0,541.1H42.0M40.0,537.9H42.0M38.5,598.7H42.0M40.0,643.3H42.0M40.0,632.1H42.0M40.0,624.1H42.0M40.0,617.9H42.0M40.0,612.9H42.0M40.0,608.6H42.0M40.0,604.9H42.0M40.0,601.7H42.0M38.5,662.5H42.0M41.5,662.5V666.0M74.3,662.5V666.0M107.1,662.5V666.0M139.9,662.5V666.0"/></g>
<g font-size="7.7" fill="#222" stroke="#222" stroke-width="0.22">
<text x="41.2" y="675.8" text-anchor="middle">0</text>
<text x="74.0" y="675.8" text-anchor="middle">2</text>
<text x="106.8" y="675.8" text-anchor="middle">4</text>
<text x="139.6" y="675.8" text-anchor="middle">6</text>
</g>
<path d="M50.5,492.8 L50.7,493.4 L50.9,493.7 L51.2,494.4 L51.5,495.0 L51.8,495.1 L52.2,495.7 L52.5,497.2 L52.9,497.4 L53.3,498.1 L53.7,499.6 L54.1,499.9 L54.6,501.0 L55.0,501.5 L55.4,502.4 L55.8,502.7 L56.2,503.9 L56.7,504.8 L57.1,505.3 L57.5,506.3 L58.0,507.0 L58.5,507.3 L58.9,508.8 L59.4,509.4 L59.9,510.0 L60.4,510.6 L60.9,512.2 L61.3,512.6 L61.8,513.6 L62.3,514.5 L62.8,515.1 L63.3,516.0 L63.8,516.2 L64.2,517.1 L64.7,517.4 L65.2,518.4 L65.6,518.9 L66.1,518.7 L66.6,519.3 L67.0,519.9 L67.5,521.0 L68.0,521.0 L68.4,521.6 L68.9,521.7 L69.4,522.3 L69.8,522.6 L70.3,522.9 L70.8,523.5 L71.2,523.8 L71.7,524.4 L72.2,524.6 L72.6,525.1 L73.1,525.3 L73.6,525.7 L74.0,525.6 L74.5,525.4 L74.9,526.2 L75.4,526.5 L75.8,526.6 L76.3,526.5 L76.8,526.8 L77.3,526.4 L77.8,527.1 L78.2,527.0 L78.8,526.8 L79.3,526.7 L79.8,527.4 L80.3,527.6 L80.8,526.8 L81.4,527.4 L81.9,527.0 L82.4,526.7 L83.0,526.8 L83.5,527.2 L84.1,527.2 L84.6,526.3 L85.2,526.8 L85.8,526.1 L86.3,526.7 L86.9,526.2 L87.5,526.6 L88.1,526.6 L88.7,526.0 L89.3,526.3 L90.0,525.5 L90.6,525.1 L91.3,525.4 L91.9,524.7 L92.6,524.6 L93.2,524.6 L93.9,524.6 L94.5,524.0 L95.1,523.7 L95.8,524.3 L96.4,523.7 L96.9,524.2 L97.5,524.1 L98.0,523.6 L98.5,523.7 L99.0,523.7 L99.5,523.9 L99.9,523.8 L100.4,523.9 L100.8,524.0 L101.2,524.3 L101.7,524.0 L102.1,524.1 L102.6,524.5 L103.0,524.2 L103.5,524.3 L104.0,525.1 L104.5,524.9 L105.0,525.0 L105.6,524.7 L106.1,525.3 L106.7,525.7 L107.3,525.5 L107.9,526.3 L108.6,526.6 L109.2,526.4 L109.8,527.2 L110.5,527.4 L111.1,527.9 L111.8,527.9 L112.4,528.5 L113.1,528.8 L113.7,528.4 L114.4,528.7 L115.0,529.4 L115.6,529.8 L116.2,529.3 L116.9,529.7 L117.5,529.9 L118.1,529.8 L118.8,529.9 L119.4,530.0 L120.0,530.1 L120.6,530.4 L121.2,530.1 L121.9,530.3 L122.5,530.7 L123.1,530.0 L123.8,530.5 L124.4,530.7 L125.0,530.3 L125.6,530.2 L126.3,530.7 L127.0,530.2 L127.7,530.1 L128.5,530.3 L129.2,530.4 L129.9,529.8 L130.6,529.9 L131.3,529.8 L132.0,530.2 L132.6,529.8 L133.2,530.1 L133.7,529.4 L134.2,529.4 L134.6,529.7 L135.0,529.5" fill="none" stroke="#1b4c84" stroke-width="1.4" stroke-linejoin="round"/>
<path d="M51.2,547.6 L51.3,548.1 L51.4,548.5 L51.6,549.2 L51.7,549.5 L51.9,550.3 L52.0,550.2 L52.2,551.2 L52.4,552.4 L52.6,552.8 L52.8,553.7 L52.9,553.7 L53.1,554.7 L53.3,555.2 L53.5,556.0 L53.7,556.6 L53.8,556.7 L54.0,557.5 L54.1,558.1 L54.3,559.3 L54.5,559.7 L54.6,559.7 L54.8,560.8 L55.0,560.8 L55.2,561.8 L55.4,561.9 L55.7,562.3 L55.9,563.6 L56.2,563.5 L56.6,564.0 L56.9,565.1 L57.3,565.5 L57.7,565.3 L58.1,566.4 L58.5,566.4 L58.9,566.9 L59.4,566.9 L59.8,567.9 L60.3,568.2 L60.8,568.9 L61.4,569.3 L61.9,569.3 L62.5,569.9 L63.1,570.3 L63.7,570.9 L64.4,571.6 L65.1,572.5 L65.8,573.5 L66.5,573.8 L67.3,575.2 L68.0,575.6 L68.8,576.4 L69.5,577.6 L70.3,578.0 L71.0,578.6 L71.8,579.4 L72.5,580.2 L73.2,580.2 L74.0,581.6 L74.7,581.2 L75.4,582.4 L76.2,583.0 L76.9,582.7 L77.7,583.9 L78.4,584.0 L79.1,584.6 L79.8,584.5 L80.5,584.9 L81.2,585.3 L81.9,586.4 L82.5,586.0 L83.1,586.7 L83.7,587.1 L84.2,587.4 L84.8,587.0 L85.3,587.1 L85.8,587.4 L86.3,587.8 L86.8,587.3 L87.3,587.9 L87.8,588.0 L88.4,588.1 L88.9,587.5 L89.4,588.3 L90.0,587.6 L90.6,587.9 L91.2,588.2 L91.8,588.4 L92.4,587.9 L93.0,588.4 L93.7,588.0 L94.3,587.7 L94.9,587.7 L95.6,587.5 L96.2,587.4 L96.9,587.5 L97.5,588.0 L98.1,588.4 L98.8,587.7 L99.4,587.7 L100.0,588.7 L100.6,588.5 L101.2,588.6 L101.8,588.7 L102.4,589.3 L103.0,589.8 L103.7,589.7 L104.3,590.0 L104.9,589.9 L105.5,591.0 L106.2,590.4 L106.8,591.0 L107.5,591.6 L108.2,591.1 L108.9,591.8 L109.6,592.2 L110.3,592.1 L111.0,592.4 L111.7,592.0 L112.4,592.4 L113.1,592.3 L113.9,593.1 L114.6,592.7 L115.3,593.0 L116.1,593.5 L116.8,593.5 L117.5,593.7 L118.2,593.3 L119.0,593.3 L119.7,593.6 L120.4,593.3 L121.2,593.2 L121.9,593.3 L122.7,593.0 L123.4,593.2 L124.1,593.7 L124.8,593.6 L125.5,593.3 L126.2,593.1 L126.9,592.9 L127.5,592.6 L128.1,592.7 L128.8,593.1 L129.4,593.1 L130.0,592.6 L130.7,592.9 L131.3,592.8 L131.9,592.7 L132.4,592.5 L133.0,592.5 L133.5,592.1 L133.9,592.3 L134.3,591.9 L134.7,592.0 L135.0,592.0" fill="none" stroke="#a51f66" stroke-width="1.4" stroke-linejoin="round"/>
<path d="M50.0,581.7 L50.1,581.7 L50.1,583.0 L50.2,582.4 L50.3,583.8 L50.3,584.0 L50.4,584.1 L50.5,585.5 L50.6,585.4 L50.7,586.8 L50.8,586.8 L50.9,587.6 L51.0,588.9 L51.2,590.4 L51.3,589.9 L51.4,590.8 L51.5,592.2 L51.6,593.5 L51.7,593.6 L51.8,593.9 L51.9,595.7 L52.1,594.7 L52.2,596.9 L52.3,596.6 L52.4,597.1 L52.5,597.8 L52.7,599.0 L52.8,600.7 L53.0,600.4 L53.1,602.1 L53.3,603.1 L53.5,603.7 L53.8,605.1 L54.0,605.4 L54.2,606.6 L54.5,608.2 L54.8,610.5 L55.1,611.5 L55.4,612.8 L55.7,614.9 L56.0,616.2 L56.3,617.5 L56.7,619.9 L57.0,621.2 L57.3,621.9 L57.7,623.9 L58.0,625.1 L58.4,627.0 L58.8,627.9 L59.1,628.2 L59.5,630.4 L59.8,629.9 L60.2,631.3 L60.5,632.8 L60.9,632.6 L61.3,634.0 L61.6,633.9 L62.0,635.8 L62.4,636.7 L62.8,637.0 L63.2,638.2 L63.7,637.9 L64.1,639.2 L64.5,639.6 L65.0,640.1 L65.5,640.5 L66.0,641.7 L66.5,642.4 L67.0,642.1 L67.5,642.9 L68.0,642.2 L68.5,643.8 L69.1,644.0 L69.6,645.0 L70.2,645.1 L70.7,644.4 L71.3,644.9 L71.9,645.7 L72.5,644.9 L73.1,645.9 L73.8,645.7 L74.4,645.8 L75.0,645.9 L75.7,647.4 L76.4,646.5 L77.1,646.8 L77.8,647.3 L78.6,648.3 L79.3,647.0 L80.0,647.7 L80.8,648.0 L81.5,648.7 L82.2,648.7 L82.9,648.8 L83.6,647.8 L84.3,648.1 L85.0,648.0 L85.7,649.0 L86.3,649.1 L86.9,647.6 L87.5,647.7 L88.1,647.7 L88.7,647.7 L89.3,648.1 L89.9,648.2 L90.5,647.6 L91.1,647.0 L91.7,647.6 L92.4,647.4 L93.0,647.6 L93.6,648.2 L94.3,647.5 L95.0,647.0 L95.7,647.0 L96.4,646.9 L97.2,645.5 L97.9,646.7 L98.7,646.2 L99.5,646.0 L100.3,645.5 L101.1,644.4 L101.9,644.1 L102.7,643.2 L103.5,643.8 L104.3,642.4 L105.1,642.1 L105.9,642.0 L106.7,641.7 L107.5,641.7 L108.3,640.9 L109.0,640.6 L109.8,640.7 L110.6,640.4 L111.3,640.7 L112.1,639.9 L112.8,641.2 L113.6,640.6 L114.4,639.6 L115.1,639.6 L115.9,639.6 L116.7,639.4 L117.5,638.8 L118.3,639.9 L119.2,639.9 L120.0,638.7 L120.9,638.4 L121.9,637.4 L122.9,637.1 L123.9,637.2 L125.0,636.7 L126.1,637.4 L127.2,635.8 L128.3,635.2 L129.3,636.5 L130.4,635.4 L131.3,634.4 L132.2,634.8 L133.1,633.6 L133.8,634.2 L134.5,634.8 L135.0,633.8" fill="none" stroke="#383838" stroke-width="1.4" stroke-linejoin="round"/>
<text x="102.8" y="493.7" font-size="7.7" fill="#1b4c84" text-anchor="middle" stroke="#1b4c84" stroke-width="0.22">79% <tspan font-style="italic">m</tspan></text>
<text x="100.3" y="505.2" font-size="7.7" fill="#1b4c84" text-anchor="middle" stroke="#1b4c84" stroke-width="0.22"><tspan font-style="italic">d</tspan> = 1.8 nm</text>
<text x="102.8" y="556.5" font-size="7.7" fill="#a51f66" text-anchor="middle" stroke="#a51f66" stroke-width="0.22">61% <tspan font-style="italic">m</tspan></text>
<text x="100.3" y="568.2" font-size="7.7" fill="#a51f66" text-anchor="middle" stroke="#a51f66" stroke-width="0.22"><tspan font-style="italic">d</tspan> = 1.8 nm</text>
<text x="102.8" y="630.2" font-size="7.7" fill="#383838" text-anchor="middle" stroke="#383838" stroke-width="0.22">52% <tspan font-style="italic">m</tspan></text>
<path d="M102,509.5L100.2,520" stroke="#1a1a1a" stroke-width="0.9"/>
<path d="M99.8,522.4 L98.60000000000001,517.8 L102.3,518.4Z" fill="#1a1a1a"/>
<path d="M102,573.5L100.2,584" stroke="#1a1a1a" stroke-width="0.9"/>
<path d="M99.8,586.4 L98.60000000000001,581.8 L102.3,582.4Z" fill="#1a1a1a"/>
<g font-size="9.2" fill="#222" stroke="#222" stroke-width="0.22">
<text x="90.6" y="691.9" text-anchor="middle"><tspan font-style="italic">q</tspan> (nm<tspan font-size="6" dy="-3.2">−1</tspan><tspan dy="3.2">)</tspan></text>
<text transform="translate(30.2,566) rotate(-90)" text-anchor="middle">Intensity (a.u.)</text>
</g>
<!-- part_f -->
<g stroke="#1a1a1a" stroke-width="1.25" fill="none">
<rect x="398.75" y="471.2" width="212.75" height="191.3"/>
<path d="M395.2,471.2H398.75M396.8,515.8H398.75M396.8,504.5H398.75M396.8,496.6H398.75M396.8,490.4H398.75M396.8,485.3H398.75M396.8,481.1H398.75M396.8,477.4H398.75M396.8,474.1H398.75M395.2,535.0H398.75M396.8,579.5H398.75M396.8,568.3H398.75M396.8,560.3H398.75M396.8,554.2H398.75M396.8,549.1H398.75M396.8,544.8H398.75M396.8,541.1H398.75M396.8,537.9H398.75M395.2,598.7H398.75M396.8,643.3H398.75M396.8,632.1H398.75M396.8,624.1H398.75M396.8,617.9H398.75M396.8,612.9H398.75M396.8,608.6H398.75M396.8,604.9H398.75M396.8,601.7H398.75M395.2,662.5H398.75M398.8,662.5V666.0M452.0,662.5V666.0M505.3,662.5V666.0M558.5,662.5V666.0M611.8,662.5V666.0"/></g>
<g font-size="7.7" fill="#222" stroke="#222" stroke-width="0.22">
<text x="377.3" y="474.8">10<tspan font-size="4.8" dy="-2.8">−4</tspan></text>
<text x="377.3" y="538.6">10<tspan font-size="4.8" dy="-2.8">−5</tspan></text>
<text x="377.3" y="602.3">10<tspan font-size="4.8" dy="-2.8">−6</tspan></text>
<text x="377.3" y="666.1">10<tspan font-size="4.8" dy="-2.8">−7</tspan></text>
<text x="398.8" y="675.8" text-anchor="middle">2.8</text>
<text x="452.0" y="675.8" text-anchor="middle">2.9</text>
<text x="505.3" y="675.8" text-anchor="middle">3.0</text>
<text x="558.5" y="675.8" text-anchor="middle">3.1</text>
<text x="611.8" y="675.8" text-anchor="middle">3.2</text>
</g>
<rect x="412.2" y="486.7" width="6" height="6" fill="#154e88"/>
<rect x="454.8" y="495.1" width="6" height="6" fill="#154e88"/>
<rect x="502.2" y="515.5" width="6" height="6" fill="#154e88"/>
<rect x="549.6" y="533.8" width="6" height="6" fill="#154e88"/>
<rect x="603.0" y="555.4" width="6" height="6" fill="#154e88"/>
<circle cx="415.2" cy="571.7" r="3.1" fill="#a51f66"/>
<circle cx="457.8" cy="585.0" r="3.1" fill="#a51f66"/>
<circle cx="505.2" cy="595.6" r="3.1" fill="#a51f66"/>
<circle cx="552.6" cy="598.0" r="3.1" fill="#a51f66"/>
<circle cx="606.0" cy="629.8" r="3.1" fill="#a51f66"/>
<text x="497.4" y="498.5" font-size="7.7" fill="#154e88" text-anchor="middle" stroke="#154e88" stroke-width="0.22">79% <tspan font-style="italic">m</tspan></text>
<text x="497.4" y="581.5" font-size="7.7" fill="#a51f66" text-anchor="middle" stroke="#a51f66" stroke-width="0.22">61% <tspan font-style="italic">m</tspan></text>
<text x="413.3" y="649.9" font-size="7.7" fill="#222" stroke="#222" stroke-width="0.22">52% <tspan font-style="italic">m</tspan>, no conductivity detected</text>
<g font-size="9.2" fill="#222" stroke="#222" stroke-width="0.22">
<text x="505.3" y="691.6" text-anchor="middle">1,000/<tspan font-style="italic">T</tspan> (K<tspan font-size="6" dy="-3.2">−1</tspan><tspan dy="3.2">)</tspan></text>
<text transform="translate(367.2,566.6) rotate(-90)" text-anchor="middle" font-size="9.35">Ion conductivity (S cm<tspan font-size="6" dy="-3.2">−1</tspan><tspan dy="3.2">)</tspan></text>
</g>
</svg>
</body></html>
